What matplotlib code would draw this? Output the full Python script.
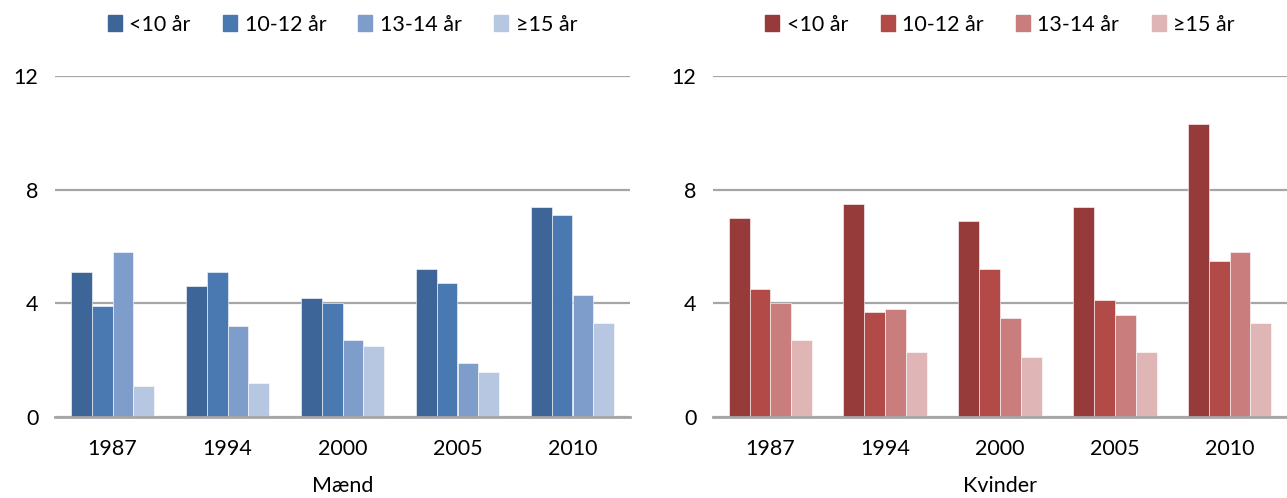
import matplotlib
matplotlib.use("Agg")
import matplotlib.pyplot as plt
import numpy as np
from matplotlib.patches import Patch

plt.rcParams['font.family'] = ['Lato', 'DejaVu Sans']

years = ['1987', '1994', '2000', '2005', '2010']
series = ['<10 år', '10-12 år', '13-14 år', '≥15 år']

maend_lt10 = [5.1, 4.6, 4.2, 5.2, 7.4]
maend_10_12 = [3.9, 5.1, 4.0, 4.7, 7.1]
maend_13_14 = [5.8, 3.2, 2.7, 1.9, 4.3]
maend_ge15 = [1.1, 1.2, 2.5, 1.6, 3.3]

kvinder_lt10 = [7.0, 7.5, 6.9, 7.4, 10.3]
kvinder_10_12 = [4.5, 3.7, 5.2, 4.1, 5.5]
kvinder_13_14 = [4.0, 3.8, 3.5, 3.6, 5.8]
kvinder_ge15 = [2.7, 2.3, 2.1, 2.3, 3.3]

blue = ['#3E6597', '#4A78B1', '#7F9DCA', '#B7C6E1']
red = ['#963B3A', '#B24A47', '#C97D7C', '#DFB5B5']

W, H = 1287, 498
fig = plt.figure(figsize=(W / 100, H / 100), dpi=100)

panels = [
    (55, 630, [maend_lt10, maend_10_12, maend_13_14, maend_ge15], blue, 'Mænd'),
    (713, 1287, [kvinder_lt10, kvinder_10_12, kvinder_13_14, kvinder_ge15], red, 'Kvinder'),
]

fs = 15.5
y0, y12 = 417, 76
for (xl, xr, data, cols, label) in panels:
    ax = fig.add_axes([xl / W, (H - y0) / H, (xr - xl) / W, (y0 - y12) / H])
    x = np.arange(len(years))
    bw = 0.182
    for i, (vals, c) in enumerate(zip(data, cols)):
        ax.bar(x + (i - 1.5) * bw, vals, width=bw, color=c, zorder=3,
               edgecolor='white', linewidth=0.4)
    ax.set_xlim(-0.5, len(years) - 0.5)
    ax.set_ylim(0, 12)
    ax.set_yticks([0, 4, 8, 12])
    ax.set_xticks(x)
    ax.set_xticklabels(years)
    for s in ax.spines.values():
        s.set_visible(False)
    ax.grid(axis='y', color='#A6A6A6', linewidth=1.6, zorder=0)
    ax.axhline(0, color='#A6A6A6', linewidth=2, zorder=4, clip_on=False)
    ax.tick_params(axis='both', length=0, labelsize=fs, colors='black')
    ax.tick_params(axis='y', pad=12)
    ax.tick_params(axis='x', pad=16)
    ax.set_xlabel(label, fontsize=fs, labelpad=12)
    handles = [Patch(color=c) for c in cols]
    ax.legend(handles, series, ncol=4, loc='center', bbox_to_anchor=(0.5, 1.15),
              frameon=False, fontsize=fs, handlelength=0.65, handleheight=0.75,
              handletextpad=0.35, columnspacing=1.5)

fig.savefig('out.png', dpi=100)
